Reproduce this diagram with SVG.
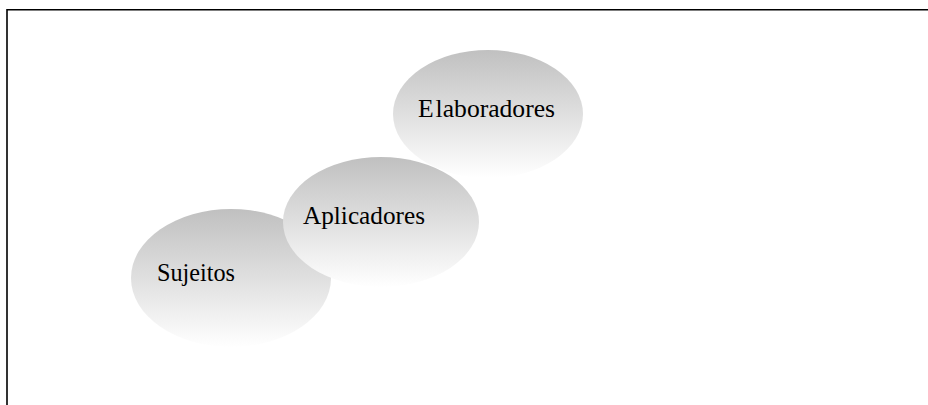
<svg xmlns="http://www.w3.org/2000/svg" width="928" height="405" viewBox="0 0 928 405">
  <style>
    .lbl { font-family: "Liberation Serif", "Times New Roman", serif; font-size: 26px; fill: #000; }
    .bubble { fill: url(#g); stroke: none; }
    .frame { stroke: #000; stroke-width: 1.6; fill: none; }
  </style>
  <defs>
    <linearGradient id="g" x1="0" y1="0" x2="0" y2="1">
      <stop offset="0" stop-color="#c0c0c0"/>
      <stop offset="1" stop-color="#ffffff"/>
    </linearGradient>
  </defs>
  <rect width="928" height="405" fill="#fff"/>
  <path class="frame" d="M7,406 V9.8 H929"/>
  <g id="sujeitos">
    <ellipse class="bubble" cx="231" cy="278" rx="100" ry="69"/>
    <text class="lbl" x="157" y="281" textLength="78" lengthAdjust="spacingAndGlyphs">Sujeitos</text>
  </g>
  <g id="aplicadores">
    <ellipse class="bubble" cx="381" cy="222" rx="98" ry="65"/>
    <text class="lbl" x="303" y="224" textLength="122" lengthAdjust="spacingAndGlyphs">Aplicadores</text>
  </g>
  <g id="elaboradores">
    <ellipse class="bubble" cx="488" cy="114" rx="95" ry="64"/>
    <text class="lbl" x="418" y="117" textLength="137" lengthAdjust="spacingAndGlyphs">E<tspan dx="2">laboradores</tspan></text>
  </g>
  <g id="connectors"></g>
</svg>
